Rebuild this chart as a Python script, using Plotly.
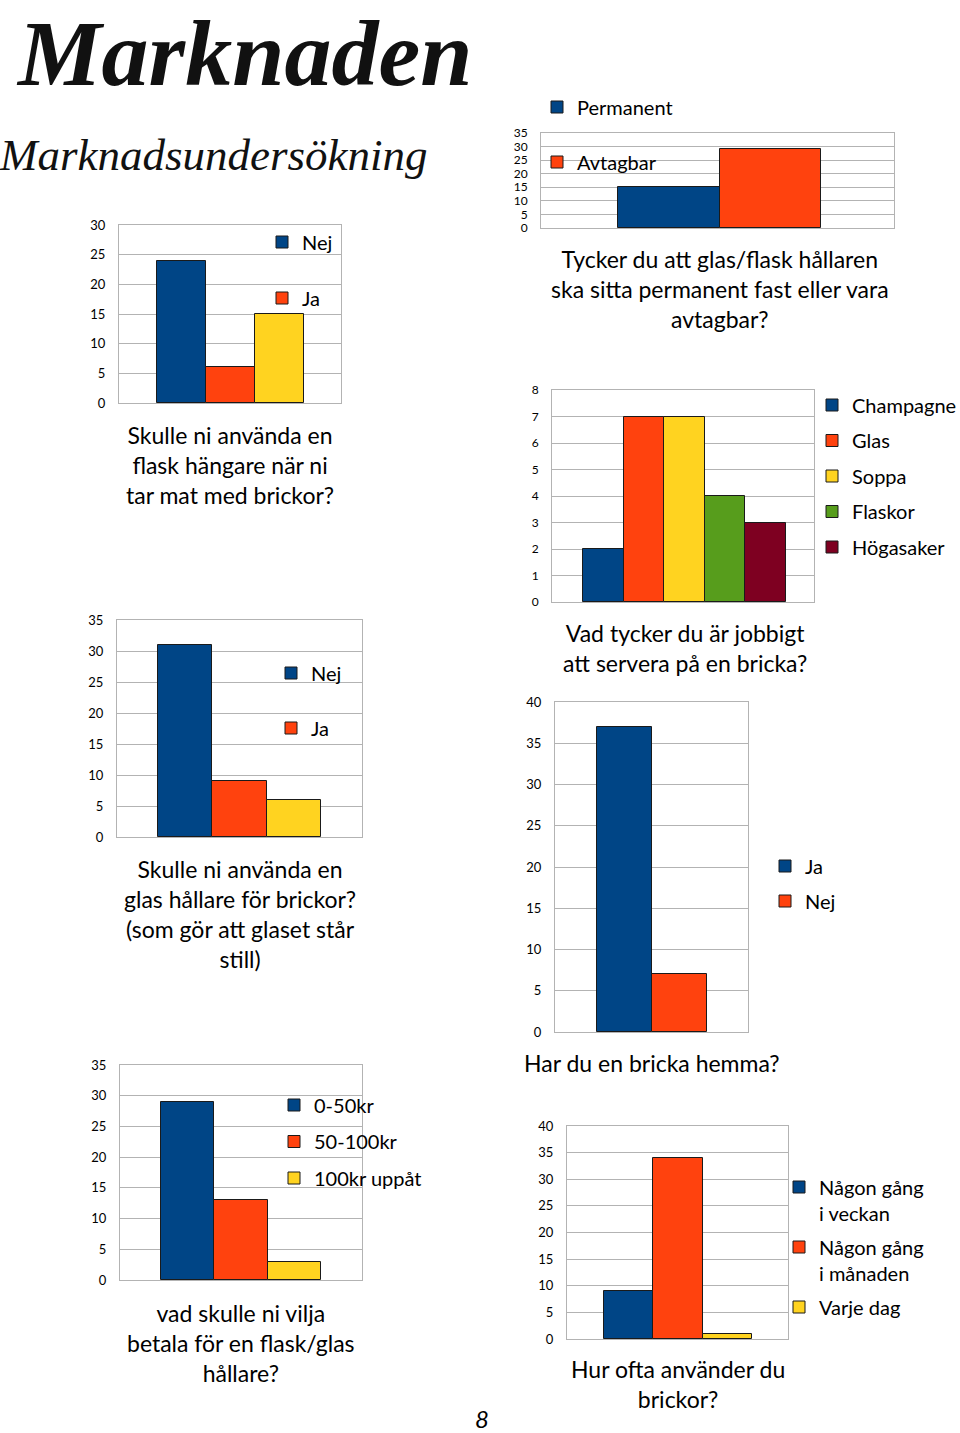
import plotly.graph_objects as go

W, H = 960, 1433

BLUE, ORANGE, YELLOW, GREEN, MAROON = "#004586", "#ff420e", "#ffd320", "#579d1c", "#7e0021"

# ---------------- data ----------------
c1_labels = ["Nej", "Ja", ""]
c1_values = [24, 6, 15]
c1_colors = [BLUE, ORANGE, YELLOW]

c2_labels = ["Permanent", "Avtagbar"]
c2_values = [15, 29]
c2_colors = [BLUE, ORANGE]

c3_labels = ["Champagne", "Glas", "Soppa", "Flaskor", "Högasaker"]
c3_values = [2, 7, 7, 4, 3]
c3_colors = [BLUE, ORANGE, YELLOW, GREEN, MAROON]

c4_labels = ["Nej", "Ja", ""]
c4_values = [31, 9, 6]
c4_colors = [BLUE, ORANGE, YELLOW]

c5_labels = ["Ja", "Nej"]
c5_values = [37, 7]
c5_colors = [BLUE, ORANGE]

c6_labels = ["0-50kr", "50-100kr", "100kr uppåt"]
c6_values = [29, 13, 3]
c6_colors = [BLUE, ORANGE, YELLOW]

c7_labels = ["Någon gång<br>i veckan", "Någon gång<br>i månaden", "Varje dag"]
c7_values = [9, 34, 1]
c7_colors = [BLUE, ORANGE, YELLOW]

titles = [
    "Skulle ni använda en<br>flask hängare när ni<br>tar mat med brickor?",
    "Tycker du att glas/flask hållaren<br>ska sitta permanent fast eller vara<br>avtagbar?",
    "Vad tycker du är jobbigt<br>att servera på en bricka?",
    "Skulle ni använda en<br>glas hållare för brickor?<br>(som gör att glaset står<br>still)",
    "Har du en bricka hemma?",
    "vad skulle ni vilja<br>betala för en flask/glas<br>hållare?",
    "Hur ofta använder du<br>brickor?",
]
y_max = [30, 35, 8, 35, 40, 35, 40]
y_step = [5, 5, 1, 5, 5, 5, 5]

# ---------------- layout geometry (pixels) ----------------
# box: x0, x1, ytop, ybottom ; grp: bar group left, right
geo = [
    dict(box=(119, 341, 225, 403), grp=(157, 304), tick=13, leg=(302, 242, 27), title=(230, 465)),
    dict(box=(541, 894, 133, 228), grp=(618, 821), tick=12, leg=(577, 107, 26), title=(719.5, 289)),
    dict(box=(552, 814, 390, 602), grp=(583, 786), tick=12, leg=(852, 405, 6.5), title=(684.5, 647.5)),
    dict(box=(117, 362, 620, 837), grp=(158, 321), tick=13, leg=(311, 673, 26), title=(239.5, 914)),
    dict(box=(555, 748, 702, 1032), grp=(597, 707), tick=13, leg=(805, 866, 6), title=(652, 1063)),
    dict(box=(120, 362, 1065, 1280), grp=(161, 321), tick=13, leg=(314, 1105, 7.5), title=(241, 1342.5)),
    dict(box=(567, 788, 1126, 1339), grp=(604, 752), tick=13, leg=(819, 1187, 5), title=(678, 1384)),
]

charts = [
    (c1_labels, c1_values, c1_colors),
    (c2_labels, c2_values, c2_colors),
    (c3_labels, c3_values, c3_colors),
    (c4_labels, c4_values, c4_colors),
    (c5_labels, c5_values, c5_colors),
    (c6_labels, c6_values, c6_colors),
    (c7_labels, c7_values, c7_colors),
]

FONT = "Lato"
GRID = "#b3b3b3"
LEG_FS = 20

fig = go.Figure()
layout = dict(
    width=W, height=H, autosize=False,
    margin=dict(l=0, r=0, t=0, b=0, autoexpand=False),
    paper_bgcolor="white", plot_bgcolor="white",
    barmode="group", bargap=0, bargroupgap=0,
    font=dict(family=FONT, color="black"),
    annotations=[],
)

for n, ((labels, values, colors), g) in enumerate(zip(charts, geo), start=1):
    x0, x1, yt, yb = g["box"]
    gx0, gx1 = g["grp"]
    scale = (gx1 - gx0)
    a = -0.5 - (gx0 - x0) / scale
    b = a + (x1 - x0) / scale
    sfx = "" if n == 1 else str(n)
    legname = "legend" if n == 1 else f"legend{n}"
    for i, (lab, val, col) in enumerate(zip(labels, values, colors)):
        fig.add_trace(go.Bar(
            x=["q"], y=[val], name=lab if lab else " ",
            marker=dict(color=col, line=dict(color="#1a1a1a", width=1)),
            xaxis=f"x{sfx}", yaxis=f"y{sfx}",
            showlegend=bool(lab), legend=legname, legendgroup=f"c{n}_{i}",
            hovertemplate=f"{lab.replace('<br>', ' ')}: %{{y}}<extra></extra>",
        ))
    layout[f"xaxis{sfx}"] = dict(
        domain=[x0 / W, x1 / W], anchor=f"y{sfx}", type="category",
        range=[a, b], showticklabels=False, showgrid=False, zeroline=False,
        showline=True, mirror=True, linecolor=GRID, linewidth=1, ticks="",
        fixedrange=True, automargin=False,
    )
    layout[f"yaxis{sfx}"] = dict(
        domain=[1 - yb / H, 1 - yt / H], anchor=f"x{sfx}",
        range=[0, y_max[n - 1]], dtick=y_step[n - 1], tick0=0,
        showgrid=True, gridcolor=GRID, gridwidth=1, zeroline=False,
        showline=True, mirror=True, linecolor=GRID, linewidth=1, ticks="",
        ticklabelstandoff=10, tickfont=dict(family=FONT, size=g["tick"], color="black"),
        fixedrange=True, automargin=False,
    )
    tx, ty, gap = g["leg"]
    layout[legname] = dict(
        x=(tx - 40) / W, y=1 - (ty - 19.5) / H, xanchor="left", yanchor="top",
        xref="paper", yref="paper",
        bgcolor="rgba(0,0,0,0)", borderwidth=0,
        font=dict(family=FONT, size=LEG_FS, color="black"),
        traceorder="grouped", tracegroupgap=gap, valign="top",
    )
    cx, cy = g["title"]
    layout["annotations"].append(dict(
        text=titles[n - 1], x=cx / W, y=1 - cy / H, xref="paper", yref="paper",
        xanchor="center", yanchor="middle", showarrow=False, align="center",
        font=dict(family=FONT, size=23, color="black"),
    ))

# page headings and page number
layout["annotations"] += [
    dict(text="<b><i>Marknaden</i></b>", x=244 / W, y=1, xref="paper", yref="paper",
         xanchor="center", yanchor="top", showarrow=False, borderpad=0,
         font=dict(family="Liberation Serif", size=94, color="#111")),
    dict(text="<i>Marknadsundersökning</i>", x=213 / W, y=1 - 155 / H, xref="paper", yref="paper",
         xanchor="center", yanchor="middle", showarrow=False,
         font=dict(family="Liberation Serif", size=45, color="#111")),
    dict(text="<i>8</i>", x=482 / W, y=1 - 1418 / H, xref="paper", yref="paper",
         xanchor="center", yanchor="middle", showarrow=False,
         font=dict(family=FONT, size=24, color="black")),
]

fig.update_layout(**layout)
fig.write_html("out.html", config=dict(displayModeBar=False),
               post_script="document.body.style.margin='0';")
